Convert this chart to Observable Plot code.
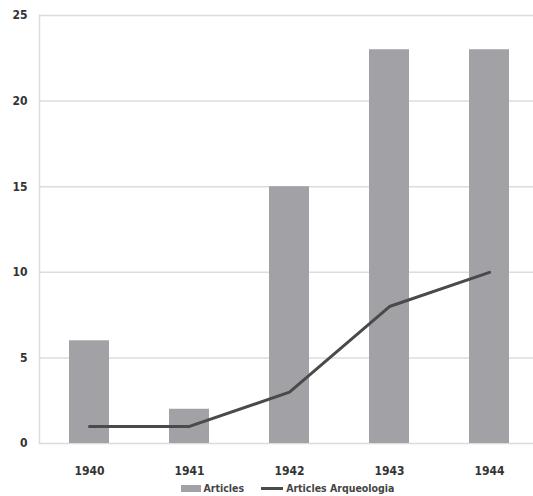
<!DOCTYPE html>
<html><head><meta charset="utf-8">
<script src="https://cdn.jsdelivr.net/npm/d3@7"></script>
<script src="https://cdn.jsdelivr.net/npm/@observablehq/plot@0.6"></script>
<style>
body{margin:0;background:#fff;font-family:"DejaVu Sans Condensed","Liberation Sans",sans-serif;overflow:hidden}
#legend{display:flex;justify-content:center;align-items:center;gap:17px;font-size:10.5px;font-weight:bold;color:#444;margin-left:42px;margin-top:2px}
.item{display:flex;align-items:center;gap:3px}
.sw{display:inline-block;width:20px;height:7px;background:#a2a2a6}
.ln{display:inline-block;width:22px;height:3px;background:#4a4a4a}
</style></head><body>
<div id="chart"></div>
<div id="legend"><span class="item"><span class="sw"></span>Articles</span><span class="item"><span class="ln"></span>Articles Arqueologia</span></div>
<script>
const years = ["1940","1941","1942","1943","1944"];
const articles = [6, 2, 15, 23, 23];
const arqueologia = [1, 1, 3, 8, 10];
const yTicks = [0, 5, 10, 15, 20, 25];

const data = years.map((y, i) => ({year: y, articles: articles[i], arq: arqueologia[i]}));

const chart = Plot.plot({
  width: 533,
  height: 480,
  marginTop: 15,
  marginBottom: 37,
  marginLeft: 39,
  marginRight: -6,
  style: {fontFamily: "DejaVu Sans Condensed, Liberation Sans, sans-serif", fontSize: "12px", fontWeight: "bold", color: "#333", background: "#fff"},
  x: {domain: years, paddingInner: 0.6, paddingOuter: 0.3, label: null},
  y: {domain: [0, 25], label: null},
  marks: [
    Plot.gridY(yTicks, {stroke: "#dcdcdc", strokeOpacity: 1, strokeWidth: 1.5}),
    Plot.frame({anchor: "left", stroke: "#dcdcdc", strokeWidth: 1.5}),
    Plot.barY(data, {x: "year", y: "articles", fill: "#a2a2a6"}),
    Plot.lineY(data, {x: "year", y: "arq", stroke: "#4a4a4a", strokeWidth: 3}),
    Plot.axisY({ticks: yTicks, tickSize: 0, tickPadding: 12, fontWeight: "bold"}),
    Plot.axisX({tickSize: 0, tickPadding: 23, fontWeight: "bold"})
  ]
});
document.getElementById("chart").appendChild(chart);
</script>
</body></html>
